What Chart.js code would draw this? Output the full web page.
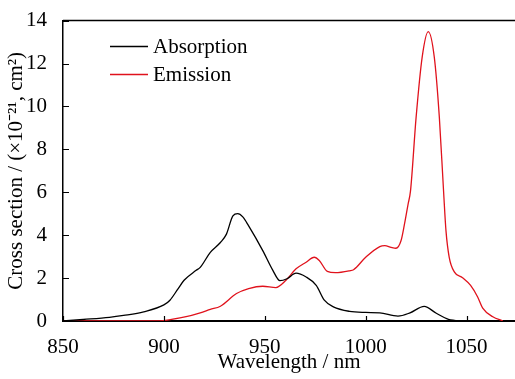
<!DOCTYPE html>
<html>
<head>
<meta charset="utf-8">
<script src="https://cdn.jsdelivr.net/npm/chart.js@4/dist/chart.umd.min.js"></script>
<style>
  html, body { margin: 0; padding: 0; background: #fff; }
  #wrap { width: 515px; height: 379px; }
</style>
</head>
<body>
<div id="wrap"><canvas id="chart"></canvas></div>
<script>
// wavelength (nm) and cross section (x10^-21 cm^2)
const absWl = [850, 860, 873, 880, 890, 900, 903, 907, 910, 916, 918, 923, 928, 931, 934.2, 936.6, 939.1, 942, 949, 954, 957.5, 961, 965.5, 970.5, 975.5, 979.5, 984, 992, 1000, 1007, 1016, 1022, 1029, 1035, 1041, 1048, 1053];
const absVal = [0, 0.07, 0.17, 0.26, 0.43, 0.75, 0.97, 1.5, 1.9, 2.36, 2.5, 3.2, 3.66, 4.05, 4.9, 5.0, 4.85, 4.43, 3.28, 2.36, 1.88, 1.97, 2.23, 2.05, 1.66, 0.97, 0.66, 0.45, 0.4, 0.38, 0.23, 0.38, 0.68, 0.36, 0.08, 0.01, 0];

const emWl = [850, 880, 895, 900, 911, 918, 923, 928, 936, 942, 949, 955.5, 960.5, 965.5, 970.5, 974.5, 977, 981, 985, 992, 994, 1000, 1007, 1009.5, 1012.6, 1015, 1017.5, 1019.2, 1021, 1022.2, 1025, 1028, 1031, 1034, 1036.5, 1038.6, 1039.8, 1041.4, 1044, 1048, 1052, 1055.5, 1058, 1063, 1068];
const emVal = [0, 0, 0, 0.02, 0.2, 0.38, 0.54, 0.69, 1.28, 1.51, 1.62, 1.56, 1.9, 2.43, 2.74, 2.97, 2.82, 2.31, 2.25, 2.34, 2.39, 2.97, 3.47, 3.51, 3.43, 3.39, 3.74, 4.5, 5.44, 6.05, 9.5, 12.3, 13.49, 12.3, 9.5, 6.05, 4.2, 2.97, 2.28, 2.02, 1.66, 1.12, 0.6, 0.2, 0];

const xTicks = [850, 900, 950, 1000, 1050];
const yTicks = [0, 2, 4, 6, 8, 10, 12, 14];

const FONT = 'Liberation Serif';

function toPoints(xs, ys) {
  return xs.map((x, i) => ({ x: x, y: ys[i] }));
}

// frame top line, inward ticks and the legend inside the plot
const framePlugin = {
  id: 'frame',
  afterDraw(chart) {
    const ctx = chart.ctx;
    const a = chart.chartArea;
    const xs = chart.scales.x, ys = chart.scales.y;
    ctx.save();
    ctx.strokeStyle = '#000';
    ctx.lineWidth = 1.5;
    ctx.beginPath();
    ctx.moveTo(a.left, a.top);
    ctx.lineTo(a.right, a.top);
    ctx.stroke();
    ctx.lineWidth = 1.2;
    ctx.beginPath();
    xTicks.forEach(v => {
      const px = Math.round(xs.getPixelForValue(v)) + 0.5;
      ctx.moveTo(px, a.bottom);
      ctx.lineTo(px, a.bottom - 5);
    });
    yTicks.forEach(v => {
      const py = Math.round(ys.getPixelForValue(v)) + 0.5;
      ctx.moveTo(a.left, py);
      ctx.lineTo(a.left + 6, py);
    });
    ctx.stroke();

    // legend
    ctx.font = '21px "' + FONT + '"';
    ctx.textBaseline = 'middle';
    chart.data.datasets.forEach((ds, i) => {
      const y = 46 + i * 28;
      ctx.strokeStyle = ds.borderColor;
      ctx.lineWidth = 1.3;
      ctx.beginPath();
      ctx.moveTo(110, y + 0.5);
      ctx.lineTo(148, y + 0.5);
      ctx.stroke();
      ctx.fillStyle = '#000';
      ctx.fillText(ds.label, 153, y + 1);
    });
    ctx.restore();
  }
};

new Chart(document.getElementById('chart'), {
  type: 'line',
  data: {
    datasets: [
      {
        label: 'Absorption',
        data: toPoints(absWl, absVal),
        borderColor: '#000000',
        borderWidth: 1.3,
        pointRadius: 0,
        cubicInterpolationMode: 'monotone'
      },
      {
        label: 'Emission',
        data: toPoints(emWl, emVal),
        borderColor: '#e0121c',
        borderWidth: 1.3,
        pointRadius: 0,
        cubicInterpolationMode: 'monotone'
      }
    ]
  },
  options: {
    responsive: true,
    maintainAspectRatio: false,
    animation: false,
    layout: { padding: { top: 18, right: 0, left: 0, bottom: 0 } },
    plugins: {
      legend: { display: false },
      tooltip: { enabled: false }
    },
    scales: {
      x: {
        type: 'linear',
        min: 850,
        max: 1074,
        afterBuildTicks: axis => { axis.ticks = xTicks.map(v => ({ value: v })); },
        afterFit: axis => { axis.height = 58; },
        grid: { display: false },
        border: { display: true, color: '#000', width: 2 },
        ticks: {
          color: '#000',
          font: { family: FONT, size: 21 },
          padding: 6,
          maxRotation: 0,
          callback: v => String(v)
        },
        title: {
          display: true,
          text: 'Wavelength / nm',
          color: '#000',
          font: { family: FONT, size: 21 },
          padding: { top: 0 }
        }
      },
      y: {
        min: 0,
        max: 14,
        afterBuildTicks: axis => { axis.ticks = yTicks.map(v => ({ value: v })); },
        afterFit: axis => { axis.width = 63; },
        grid: { display: false },
        border: { display: true, color: '#000', width: 1.5 },
        ticks: {
          color: '#000',
          font: { family: FONT, size: 21 },
          padding: 8,
          callback: v => String(v)
        },
        title: {
          display: true,
          text: 'Cross section / (×10⁻²¹, cm²)',
          color: '#000',
          font: { family: FONT, size: 21 },
          padding: { bottom: 2 }
        }
      }
    }
  },
  plugins: [framePlugin]
});
</script>
</body>
</html>
